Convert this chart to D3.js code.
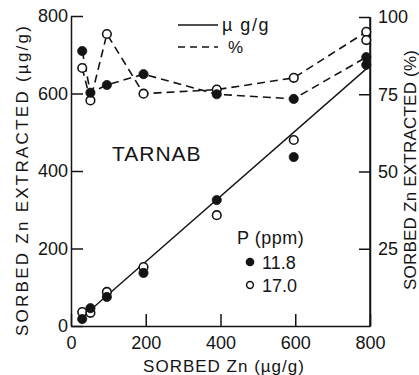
<!DOCTYPE html>
<html lang="en">
  <head>
    <meta charset="UTF-8" />
    <title>Tarnab sorbed Zn</title>
    <style>
      body { margin: 0; background: #fff; }
      text { font-family: "Liberation Sans", Arial, sans-serif; fill: #141414; }
      .axis path, .axis line { stroke: #141414; stroke-width: 1.5; }
      .axis text { font-size: 18px; }
    </style>
  </head>
  <body>
    <svg width="419" height="375"></svg>
    <script src="https://cdn.jsdelivr.net/npm/d3@7"></script>
    <script>
      // sorbed Zn (ug/g)
      var sorbed = [30, 52, 96, 194, 390, 596, 790];
      // extracted, ug/g
      var ug118 = [18, 46, 75, 137, 325, 436, 674];
      var ug170 = [36, 34, 88, 152, 286, 480, 738];
      // extracted, %
      var pct118 = [89, 75.5, 78, 81.5, 75, 73.5, 87];
      var pct170 = [83.5, 73, 94.5, 75.2, 76.5, 80.3, 95.2];
      // fitted line (ug/g)
      var fitX = [20, 800];
      var fitY = [14, 672];

      var xTicks = [0, 200, 400, 600, 800];
      var yTicks = [0, 200, 400, 600, 800];
      var pTicks = [25, 50, 75, 100];

      var svg = d3.select("svg");
      var ink = "#141414";

      var x = d3.scaleLinear().domain([0, 800]).range([71, 370]);
      var y = d3.scaleLinear().domain([0, 800]).range([326, 16]);
      var yp = d3.scaleLinear().domain([0, 100]).range([326, 17]);

      svg.append("g").attr("class", "axis")
        .attr("transform", "translate(71,0)")
        .call(d3.axisLeft(y).tickValues(yTicks).tickSize(-12).tickSizeOuter(0).tickPadding(3));

      svg.append("g").attr("class", "axis")
        .attr("transform", "translate(0,326)")
        .call(d3.axisBottom(x).tickValues(xTicks).tickSize(-12).tickSizeOuter(0).tickPadding(10));

      svg.append("g").attr("class", "axis")
        .attr("transform", "translate(370,0)")
        .call(d3.axisRight(yp).tickValues(pTicks).tickSize(-11).tickSizeOuter(0).tickPadding(8));

      // right axis goes all the way down to 0
      svg.append("line")
        .attr("x1", 370).attr("x2", 370)
        .attr("y1", yp(100)).attr("y2", yp(0))
        .attr("stroke", ink).attr("stroke-width", 1.5);

      // dashed % lines
      var pline = d3.line()
        .x(function(d) { return x(d[0]); })
        .y(function(d) { return yp(d[1]); });

      [pct118, pct170].forEach(function(s) {
        svg.append("path")
          .datum(d3.zip(sorbed, s))
          .attr("d", pline)
          .attr("fill", "none")
          .attr("stroke", ink)
          .attr("stroke-width", 1.6)
          .attr("stroke-dasharray", "8,5");
      });

      // solid fit line
      svg.append("line")
        .attr("x1", x(fitX[0])).attr("y1", y(fitY[0]))
        .attr("x2", x(fitX[1])).attr("y2", y(fitY[1]))
        .attr("stroke", ink).attr("stroke-width", 1.4);

      function dots(xs, vs, scale, filled) {
        svg.append("g").selectAll("circle")
          .data(d3.zip(xs, vs))
          .enter()
          .append("circle")
          .attr("cx", function(d) { return x(d[0]); })
          .attr("cy", function(d) { return scale(d[1]); })
          .attr("r", filled ? 4.6 : 4.3)
          .attr("fill", filled ? ink : "#fff")
          .attr("stroke", ink)
          .attr("stroke-width", filled ? 0.8 : 1.6);
      }
      dots(sorbed, pct170, yp, false);
      dots(sorbed, ug170, y, false);
      dots(sorbed, pct118, yp, true);
      dots(sorbed, ug118, y, true);

      // titles
      svg.append("text")
        .attr("x", 224).attr("y", 372)
        .attr("text-anchor", "middle")
        .attr("font-size", 17)
        .attr("letter-spacing", 1)
        .text("SORBED Zn (\u00b5g/g)");

      svg.append("text")
        .attr("transform", "translate(28,181) rotate(-90)")
        .attr("text-anchor", "middle")
        .attr("font-size", 17)
        .attr("textLength", 310)
        .attr("lengthAdjust", "spacing")
        .text("SORBED Zn EXTRACTED (\u00b5g/g)");

      svg.append("text")
        .attr("transform", "translate(416,170) rotate(-90)")
        .attr("text-anchor", "middle")
        .attr("font-size", 17)
        .attr("textLength", 240)
        .attr("lengthAdjust", "spacing")
        .text("SORBED Zn EXTRACTED (%)");

      svg.append("text")
        .attr("x", 112).attr("y", 161)
        .attr("font-size", 21)
        .attr("letter-spacing", 1)
        .text("TARNAB");

      // line legend
      svg.append("line")
        .attr("x1", 178).attr("x2", 218).attr("y1", 25).attr("y2", 25)
        .attr("stroke", ink).attr("stroke-width", 1.5);
      svg.append("text").attr("x", 222).attr("y", 31)
        .attr("font-size", 18).attr("letter-spacing", 1.5)
        .text("\u00b5 g/g");
      svg.append("line")
        .attr("x1", 178).attr("x2", 218).attr("y1", 47).attr("y2", 47)
        .attr("stroke", ink).attr("stroke-width", 1.6)
        .attr("stroke-dasharray", "7,5");
      svg.append("text").attr("x", 228).attr("y", 53)
        .attr("font-size", 17)
        .text("%");

      // marker legend
      svg.append("text").attr("x", 237).attr("y", 244)
        .attr("font-size", 18).attr("letter-spacing", 0.5)
        .text("P (ppm)");
      svg.append("circle").attr("cx", 250).attr("cy", 262).attr("r", 4.3).attr("fill", ink);
      svg.append("text").attr("x", 262).attr("y", 268.5).attr("font-size", 18).text("11.8");
      svg.append("circle").attr("cx", 250).attr("cy", 285).attr("r", 3.4)
        .attr("fill", "#fff").attr("stroke", ink).attr("stroke-width", 1.5);
      svg.append("text").attr("x", 262).attr("y", 291.5).attr("font-size", 18).text("17.0");
    </script>
  </body>
</html>
